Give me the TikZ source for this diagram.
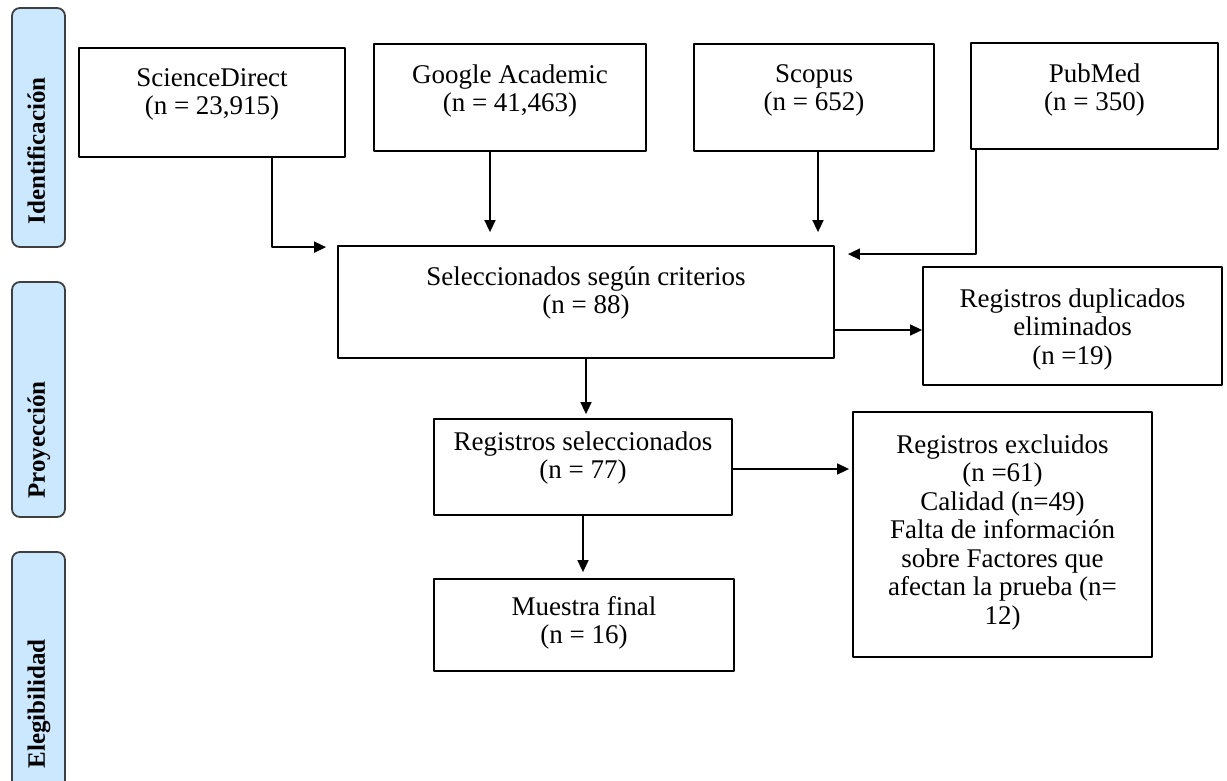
\documentclass[tikz,border=0pt]{standalone}
\usepackage{fontspec}
\setmainfont{Liberation Serif}
\usetikzlibrary{arrows.meta,positioning}
\definecolor{barblue}{HTML}{CCE8FF}
\definecolor{bargray}{HTML}{3F3F3F}
\begin{document}
\begin{tikzpicture}[x=1pt, y=-1pt, line join=round, >={Triangle[length=12pt,width=11pt]}, line width=1.6,
	box/.style={draw, rectangle, inner sep=0, line width=1.8},
	boxtext/.style={align=center, inner sep=0, font=\fontsize{27}{28.5}\selectfont},
	phase/.style={draw=bargray, fill=barblue, rounded corners=8, line width=1.8},
	phasetext/.style={rotate=90, anchor=base, inner sep=0, font=\fontsize{25}{30}\selectfont\bfseries}]
	\clip (0,0) rectangle (1227,780);
	% fases
	\draw[phase] (12,8) rectangle (65,247);
	\draw[phase] (12,282) rectangle (65,517);
	\draw[phase] (12,552) rectangle (65,800);
	\node[phasetext] (ident) at (45,151) {Identificación};
	\node[phasetext] (proy) at (45,440) {Proyección};
	\node[phasetext] (eleg) at (45,704) {Elegibilidad};
	% cajas
	\node[box, minimum width=266, minimum height=109] (sd) at (212,102.5) {};
	\node[box, minimum width=272, minimum height=107] (ga) at (510,97.5) {};
	\node[box, minimum width=240, minimum height=107] (sc) at (814,97.5) {};
	\node[box, minimum width=247, minimum height=106] (pm) at (1094.5,96) {};
	\node[box, minimum width=496, minimum height=112] (sel) at (586,302) {};
	\node[box, minimum width=299, minimum height=118] (dup) at (1072.5,326) {};
	\node[box, minimum width=298, minimum height=96] (rs) at (583,467) {};
	\node[box, minimum width=299, minimum height=245] (ex) at (1002.5,534.5) {};
	\node[box, minimum width=300, minimum height=92] (mf) at (584,625) {};
	% textos
	\node[boxtext, below=20.5pt of sd.north] (sdt) {ScienceDirect\\(n = 23,915)};
	\node[boxtext, below=20.5pt of ga.north] (gat) {Google Academic\\(n = 41,463)};
	\node[boxtext, below=20.5pt of sc.north] (sct) {Scopus\\(n = 652)};
	\node[boxtext, below=20.5pt of pm.north] (pmt) {PubMed\\(n = 350)};
	\node[boxtext, below=20.5pt of sel.north] (selt) {Seleccionados según criterios\\(n = 88)};
	\node[boxtext, below=21.5pt of dup.north] (dupt) {Registros duplicados\\eliminados\\(n =19)};
	\node[boxtext, below=12.5pt of rs.north] (rst) {Registros seleccionados\\(n = 77)};
	\node[boxtext, below=22.5pt of ex.north] (ext) {Registros excluidos\\(n =61)\\Calidad (n=49)\\Falta de información\\sobre Factores que\\afectan la prueba (n=\\12)};
	\node[boxtext, below=17.5pt of mf.north] (mft) {Muestra final\\(n = 16)};
	% flechas
	\draw[->] ([xshift=60pt]sd.south) |- ([xshift=-11pt,yshift=-2pt]sel.north west);
	\draw[->] ([xshift=-20pt]ga.south) -- ([xshift=-20pt,yshift=13pt]ga.south |- sel.north);
	\draw[->] ([xshift=4pt]sc.south) -- ([xshift=4pt,yshift=13pt]sc.south |- sel.north);
	\draw[->] ([xshift=6pt]pm.south west) |- ([xshift=13pt,yshift=-9pt]sel.north east);
	\draw[->] ([yshift=-4pt]sel.east |- dup.west) -- ([yshift=-4pt]dup.west);
	\draw[->] (sel.south) -- ([yshift=4pt]sel.south |- rs.north);
	\draw[->] ([yshift=-2pt]rs.east) -- ([xshift=-3pt,yshift=-2pt]rs.east -| ex.west);
	\draw[->] (rs.south) -- ([yshift=6pt]rs.south |- mf.north);
\end{tikzpicture}
\end{document}
